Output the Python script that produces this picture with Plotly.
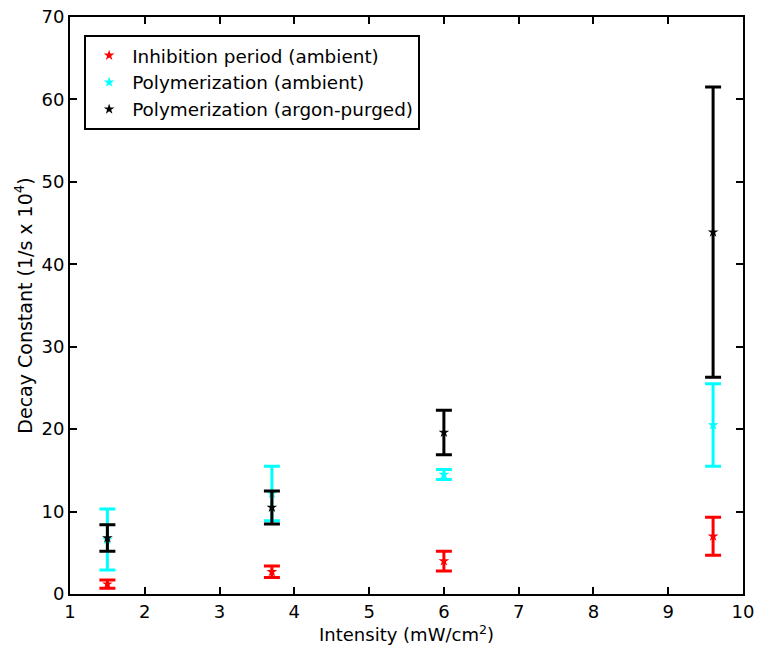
import plotly.graph_objects as go

intensity = [1.5, 3.7, 6.0, 9.6]

inhib_amb = [1.2, 2.7, 4.0, 7.0]
inhib_amb_err = [0.5, 0.7, 1.2, 2.3]

poly_amb = [6.6, 12.2, 14.5, 20.5]
poly_amb_err = [3.7, 3.3, 0.6, 5.0]

poly_argon = [6.8, 10.5, 19.6, 43.9]
poly_argon_err = [1.6, 2.0, 2.7, 17.6]

series = [
    ("Inhibition period (ambient)", inhib_amb, inhib_amb_err, "#ff0000"),
    ("Polymerization (ambient)", poly_amb, poly_amb_err, "#00ffff"),
    ("Polymerization (argon-purged)", poly_argon, poly_argon_err, "#000000"),
]

fig = go.Figure()
for name, vals, errs, col in series:
    fig.add_trace(go.Scatter(
        x=intensity, y=vals, name=name, mode="markers",
        marker=dict(symbol="star", size=8, color=col),
        error_y=dict(type="data", array=errs, visible=True, color=col,
                     thickness=3, width=8),
    ))

font = "DejaVu Sans, Verdana, sans-serif"
axis_common = dict(
    showline=True, linecolor="black", linewidth=2, mirror="ticks",
    ticks="inside", ticklen=7, tickwidth=2, tickcolor="black",
    showgrid=False, zeroline=False, automargin=False,
    tickfont=dict(family=font, size=18, color="black"),
)

fig.update_layout(
    width=757, height=651,
    margin=dict(l=70, r=14, t=17, b=57),
    plot_bgcolor="white", paper_bgcolor="white",
    font=dict(family=font, color="black"),
    xaxis=dict(range=[1, 10], dtick=1,
               title=dict(text="Intensity (mW/cm<sup>2</sup>)",
                          font=dict(family=font, size=18, color="black"),
                          standoff=6),
               **axis_common),
    yaxis=dict(range=[0, 70], dtick=10,
               title=dict(text="Decay Constant (1/s x 10<sup>4</sup>)",
                          font=dict(family=font, size=19, color="black"),
                          standoff=4),
               **axis_common),
    legend=dict(x=0.021, y=0.969, xanchor="left", yanchor="top",
                bordercolor="black", borderwidth=2, bgcolor="white",
                font=dict(family=font, size=18.4, color="black"),
                tracegroupgap=0, itemwidth=36),
    showlegend=True,
)

fig.write_html("out.html")
